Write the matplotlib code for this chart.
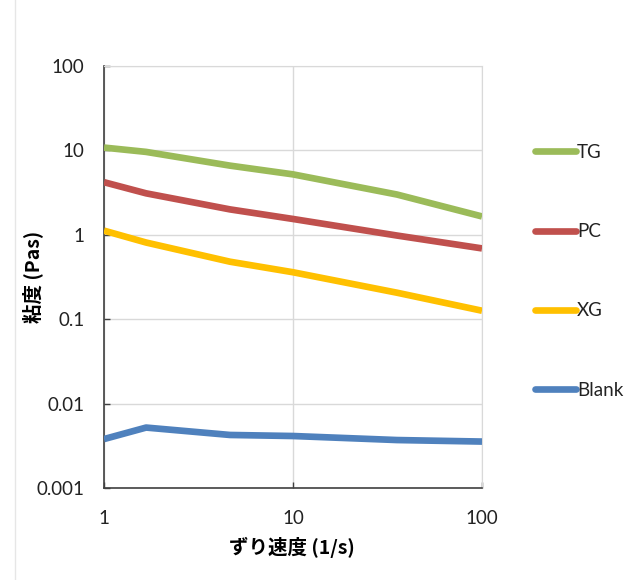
import matplotlib
matplotlib.use("Agg")
import matplotlib.pyplot as plt
from matplotlib.lines import Line2D

plt.rcParams['font.family'] = ['Lato', 'Noto Sans CJK JP', 'DejaVu Sans']

shear_rate = [1.0, 1.67, 4.64, 10.0, 35.5, 100.0]
series_names = ["TG", "PC", "XG", "Blank"]
tg = [10.8, 9.6, 6.6, 5.2, 3.0, 1.65]
pc = [4.2, 3.1, 2.0, 1.54, 0.98, 0.69]
xg = [1.12, 0.81, 0.48, 0.36, 0.206, 0.126]
blank = [0.0038, 0.0052, 0.00425, 0.00413, 0.0037, 0.00355]
colors = ["#9BBB59", "#C0504D", "#FFC000", "#4F81BD"]
x_ticks = [1, 10, 100]
x_tick_labels = ["1", "10", "100"]
y_ticks = [0.001, 0.01, 0.1, 1, 10, 100]
y_tick_labels = ["0.001", "0.01", "0.1", "1", "10", "100"]
x_label = "ずり速度 (1/s)"
y_label = "粘度 (Pas)"

fig = plt.figure(figsize=(6.4, 5.8), dpi=100)
fig.patch.set_facecolor("white")
# faint chart border line on the left
fig.add_artist(Line2D([15/640, 15/640], [0, 1], transform=fig.transFigure,
                      color="#E6E6E6", lw=1))

ax = fig.add_axes([104/640, 1-488/580, (482-104)/640, (488-66)/580])
for name, vals, c in zip(series_names, [tg, pc, xg, blank], colors):
    ax.plot(shear_rate, vals, color=c, lw=4.8, solid_capstyle="butt",
            solid_joinstyle="round", label=name, zorder=3)

ax.set_xscale("log")
ax.set_yscale("log")
ax.set_xlim(1, 100)
ax.set_ylim(0.001, 100)
ax.set_xticks(x_ticks)
ax.set_xticklabels(x_tick_labels)
ax.set_yticks(y_ticks)
ax.set_yticklabels(y_tick_labels)
ax.minorticks_off()
ax.grid(True, which="major", color="#D9D9D9", lw=1)
ax.set_axisbelow(True)
ax.tick_params(direction="in", length=4.5, width=1, color="#404040",
               labelsize=13.5, labelcolor="#222222")
ax.tick_params(axis="y", pad=14)
ax.tick_params(axis="x", pad=16)
for s in ["top", "right"]:
    ax.spines[s].set_color("#D9D9D9")
for s in ["left", "bottom"]:
    ax.spines[s].set_color("#404040")
    ax.spines[s].set_linewidth(1.2)

ax.set_xlabel(x_label, fontsize=14, fontweight="bold",
              family=['Noto Sans CJK JP', 'DejaVu Sans'])
ax.set_ylabel(y_label, fontsize=14, fontweight="bold",
              family=['Noto Sans CJK JP', 'DejaVu Sans'])
ax.xaxis.set_label_coords(0.496, (488-547)/422, transform=ax.transAxes)
ax.xaxis.label.set_verticalalignment("center")
ax.yaxis.set_label_coords((33-104)/378, 0.5, transform=ax.transAxes)
ax.yaxis.label.set_verticalalignment("center")

handles = [Line2D([0], [0], color=c, lw=4.8, solid_capstyle="round") for c in colors]
leg = fig.legend(handles, series_names, loc="upper left",
                 bbox_to_anchor=(518/640, 1-127/580), frameon=False,
                 fontsize=13.5, handlelength=2.2, handletextpad=0.05,
                 labelspacing=3.32)
for t in leg.get_texts():
    t.set_color("#222222")

fig.savefig("out.png", dpi=100, facecolor="white")
